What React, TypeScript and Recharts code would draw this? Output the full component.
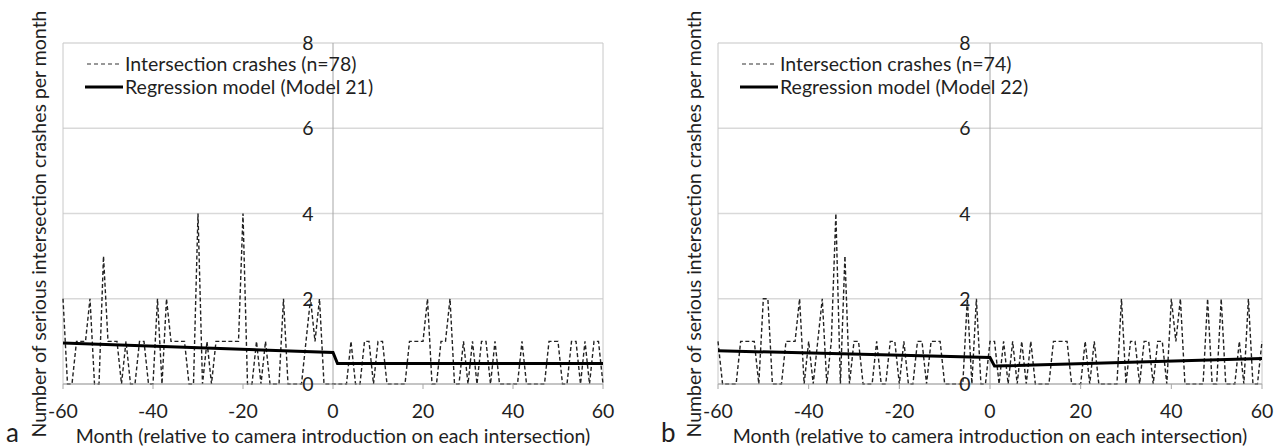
import React from 'react';
import { LineChart, Line, XAxis, YAxis, CartesianGrid, ReferenceLine, Legend } from 'recharts';

// Serious intersection crashes per month, before/after camera introduction (month 0)
const months = Array.from({ length: 121 }, (_, i) => i - 60);

// panel a — 78 crashes
const crashesA = [
  2, 0, 0, 1, 1, 1, 2, 0, 0, 3,
  1, 1, 1, 0, 1, 0, 0, 1, 1, 0,
  0, 2, 0, 2, 1, 1, 1, 1, 0, 0,
  4, 0, 1, 0, 1, 1, 1, 1, 1, 1,
  4, 0, 0, 1, 0, 1, 0, 0, 0, 2,
  0, 0, 0, 0, 1, 2, 1, 2, 0, 0,
  0, 0, 0, 0, 1, 0, 0, 1, 1, 0,
  1, 1, 0, 0, 0, 0, 0, 1, 1, 1,
  1, 2, 0, 0, 1, 1, 2, 0, 0, 1,
  0, 1, 0, 1, 1, 0, 1, 0, 0, 0,
  0, 0, 1, 0, 0, 0, 0, 0, 1, 1,
  1, 0, 0, 1, 1, 0, 1, 0, 1, 1,
  0,
];

// panel b — 74 crashes
const crashesB = [
  1, 0, 0, 0, 0, 1, 1, 1, 1, 0,
  2, 2, 0, 0, 0, 1, 1, 1, 2, 0,
  1, 0, 1, 2, 0, 1, 4, 0, 3, 0,
  1, 1, 0, 0, 0, 1, 0, 0, 1, 1,
  0, 1, 0, 0, 1, 1, 0, 1, 1, 1,
  0, 0, 0, 0, 0, 2, 0, 2, 0, 0,
  1, 1, 0, 1, 0, 1, 0, 1, 0, 1,
  0, 0, 0, 0, 1, 1, 1, 1, 0, 0,
  0, 1, 0, 1, 0, 0, 0, 0, 0, 2,
  0, 1, 1, 0, 1, 1, 0, 1, 1, 0,
  2, 1, 2, 0, 0, 0, 0, 0, 2, 0,
  0, 2, 0, 0, 0, 1, 0, 2, 0, 0,
  1,
];

// regression models: break at camera introduction
const regMonths = [-60, 0, 1, 60];
const regA = [0.96, 0.74, 0.48, 0.48];
const regB = [0.78, 0.62, 0.42, 0.6];

const xTicks = [-60, -40, -20, 0, 20, 40, 60];
const yTicks = [0, 2, 4, 6, 8];

const FONT = 'Lato, "Open Sans", sans-serif';
const TXT = '#1f1f1f';
const FS = 19.5;
const H = 447;

type PanelProps = {
  left: number;
  width: number;
  ml: number;
  mr: number;
  crashes: number[];
  reg: number[];
  crashLabel: string;
  regLabel: string;
  letter: string;
};

const Panel = ({ left, width, ml, mr, crashes, reg, crashLabel, regLabel, letter }: PanelProps) => {
  const rows = months.map((m, i) => ({ month: m, crashes: crashes[i] }));
  const regRows = regMonths.map((m, i) => ({ month: m, reg: reg[i] }));
  const midX = ml + (width - ml - mr) / 2;

  const legend = () => (
    <div style={{ fontFamily: FONT, fontSize: FS, color: TXT, lineHeight: '23px' }}>
      <div style={{ display: 'flex', alignItems: 'center' }}>
        <svg width={36} height={4} style={{ marginRight: 4 }}>
          <line x1={2} y1={2} x2={34} y2={2} stroke="#777" strokeWidth={1.4} strokeDasharray="4 3" />
        </svg>
        {crashLabel}
      </div>
      <div style={{ display: 'flex', alignItems: 'center' }}>
        <svg width={38} height={4} style={{ marginRight: 2 }}>
          <line x1={0} y1={2} x2={38} y2={2} stroke="#000" strokeWidth={3} />
        </svg>
        {regLabel}
      </div>
    </div>
  );

  const yTick = (p: any) => (
    <text
      key={`yt-${p.index}`}
      x={midX - 19}
      y={p.y}
      dy="0.36em"
      textAnchor="end"
      fill={TXT}
      fontSize={FS}
      fontFamily={FONT}
    >
      {p.payload.value}
    </text>
  );

  return (
    <div style={{ position: 'absolute', left, top: 0, width, height: H }}>
      <LineChart width={width} height={H} data={rows} margin={{ top: 43, right: mr, left: ml, bottom: 0 }}>
        <CartesianGrid vertical={false} stroke="#d9d9d9" strokeWidth={1.3} />
        <XAxis
          dataKey="month"
          type="number"
          domain={[-60, 60]}
          ticks={xTicks}
          interval={0}
          height={63}
          tickSize={5}
          tickMargin={15}
          axisLine={{ stroke: '#a6a6a6' }}
          tickLine={{ stroke: '#a6a6a6' }}
          tick={{ fill: TXT, fontSize: FS, fontFamily: FONT }}
          label={{
            value: 'Month (relative to camera introduction on each intersection)',
            position: 'insideBottom',
            offset: 4,
            fill: TXT,
            fontSize: FS,
            fontFamily: FONT,
          }}
        />
        <YAxis
          type="number"
          domain={[0, 8]}
          ticks={yTicks}
          interval={0}
          width={1}
          axisLine={false}
          tickLine={false}
          tick={yTick}
        />
        <ReferenceLine x={-60} stroke="#c8c8c8" />
        <ReferenceLine x={60} stroke="#c8c8c8" />
        <ReferenceLine x={0} stroke="#a6a6a6" />
        <Legend
          content={legend}
          layout="horizontal"
          align="center"
          verticalAlign="middle"
          wrapperStyle={{ position: 'absolute', left: ml + 23, top: 52, width: 'auto' }}
        />
        <Line
          dataKey="crashes"
          type="linear"
          stroke="#222"
          strokeWidth={1.4}
          strokeDasharray="4 2.5"
          dot={false}
          isAnimationActive={false}
        />
        <Line
          data={regRows}
          dataKey="reg"
          type="linear"
          stroke="#000"
          strokeWidth={3}
          dot={false}
          isAnimationActive={false}
        />
      </LineChart>
      <div
        style={{
          position: 'absolute',
          left: ml - 24,
          top: 224,
          transform: 'translate(-50%, -50%) rotate(-90deg)',
          whiteSpace: 'nowrap',
          fontFamily: FONT,
          fontSize: FS,
          color: TXT,
        }}
      >
        Number of serious intersection crashes per month
      </div>
      <div
        style={{
          position: 'absolute',
          left: ml - 56,
          top: 418,
          fontFamily: FONT,
          fontSize: 26,
          color: TXT,
          lineHeight: '28px',
        }}
      >
        {letter}
      </div>
    </div>
  );
};

export default function App() {
  return (
    <div style={{ position: 'absolute', left: 0, top: 0, width: 1282, height: H, background: '#fff' }}>
      <Panel
        left={0}
        width={640}
        ml={62}
        mr={37}
        crashes={crashesA}
        reg={regA}
        crashLabel="Intersection crashes (n=78)"
        regLabel="Regression model (Model 21)"
        letter="a"
      />
      <Panel
        left={640}
        width={642}
        ml={77}
        mr={20}
        crashes={crashesB}
        reg={regB}
        crashLabel="Intersection crashes (n=74)"
        regLabel="Regression model (Model 22)"
        letter="b"
      />
    </div>
  );
}
